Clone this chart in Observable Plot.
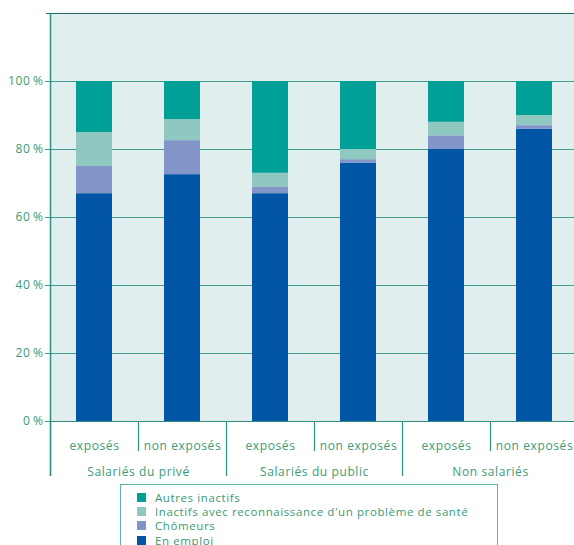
<!DOCTYPE html>
<html><head><meta charset="utf-8">
<script src="https://cdn.jsdelivr.net/npm/d3@7"></script>
<script src="https://cdn.jsdelivr.net/npm/@observablehq/plot@0.6"></script>
<style>
html,body{margin:0;padding:0;background:#fff;overflow:hidden;width:574px;height:545px;position:relative}
#chart svg{display:block;overflow:visible;max-width:none !important}
#legend{position:absolute;left:120px;top:484px;width:378px;height:80px;border:1.5px solid #5ab5a6;box-sizing:border-box;
  font-family:'Open Sans',sans-serif;font-size:11.5px;letter-spacing:0.6px;color:#3a9a78;padding-top:5px;line-height:13px}
#legend .row{display:flex;align-items:center;height:14.4px;padding-left:16px;white-space:nowrap}
#legend .sw{width:9px;height:9px;margin-right:9px;flex:none}
</style></head><body><div id="chart"></div><div id="legend"></div>
<script>
const groups = ["Salariés du privé", "Salariés du public", "Non salariés"];
const subs = ["exposés", "non exposés"];
const statuts = ["En emploi", "Chômeurs", "Inactifs avec reconnaissance d'un problème de santé", "Autres inactifs"];
const colors = ["#0055a5", "#8394c8", "#8fc8c0", "#00a096"];
// one value per bar: privé exposés, privé non exposés, public exposés, public non exposés, non salariés exposés, non salariés non exposés
const enEmploi = [67, 72.6, 67, 76, 80, 86];
const chomeurs = [8, 10, 2, 1, 4, 1];
const inactifsSante = [10, 6.2, 4, 3, 4, 3];
const autresInactifs = [15, 11.2, 27, 20, 12, 10];
const yTicks = [0, 20, 40, 60, 80, 100];
const yMax = 120;

const series = [enEmploi, chomeurs, inactifsSante, autresInactifs];
const cells = [];
groups.forEach((g, gi) => subs.forEach((s, si) => cells.push({group: g, sub: s, idx: gi * 2 + si})));
const rows = [];
cells.forEach(c => statuts.forEach((st, k) => rows.push({group: c.group, sub: c.sub, statut: st, value: series[k][c.idx]})));

const teal = "#3f9c8e";
const txt = "#3a9a78";

const chart = Plot.plot({
  width: 578, height: 478,
  marginLeft: 50, marginRight: 0, marginTop: 13, marginBottom: 57,
  style: {fontFamily: "'Open Sans', sans-serif", fontSize: "12px", color: txt, background: "transparent", letterSpacing: "0.6px", overflow: "visible"},
  fx: {domain: groups, padding: 0, axis: null},
  x: {domain: subs, paddingInner: 0.59, paddingOuter: 0.295, axis: null},
  y: {domain: [0, yMax], axis: null},
  color: {domain: statuts, range: colors},
  marks: [
    Plot.frame({fill: "#e0eeee", stroke: null, shapeRendering: "crispEdges"}),
    Plot.ruleY(yTicks, {stroke: teal, strokeWidth: 1.2, shapeRendering: "crispEdges"}),
    Plot.barY(rows, Plot.stackY({order: statuts}, {fx: "group", x: "sub", y: "value", fill: "statut"})),
    Plot.ruleY([0], {stroke: "#2f8e80", strokeWidth: 1.5, shapeRendering: "crispEdges"}),
    Plot.ruleY([yMax], {stroke: "#1f6e62", strokeWidth: 1.5, shapeRendering: "crispEdges"}),
    Plot.ruleY(cells.filter(c => c.idx === 0), {fx: "group", y: () => yMax, insetLeft: -4, insetRight: 160, stroke: "#1f6e62", strokeWidth: 1.5, shapeRendering: "crispEdges"}),
    Plot.axisY({ticks: yTicks, tickFormat: d => d + "\u2009%", tickSize: 5, tickPadding: 2, stroke: teal, fill: txt, label: null}),
    // left axis line
    Plot.ruleX(cells.filter(c => c.idx === 0), {fx: "group", x: "sub", dx: -44, insetBottom: -55, stroke: "#2f9080", strokeWidth: 1.5}),
    // group separators
    Plot.ruleX(cells.filter(c => c.sub === subs[0]), {fx: "group", x: "sub", y1: 0, y2: 0, dx: -44, insetBottom: -55, stroke: "#2f9080", strokeWidth: 1.2}),
    // inner separators
    Plot.ruleX(cells.filter(c => c.sub === subs[1]), {fx: "group", x: "sub", y1: 0, y2: 0, dx: -44, insetBottom: -30, stroke: "#2f9080", strokeWidth: 1.2}),
    Plot.text(cells, {fx: "group", x: "sub", text: "sub", frameAnchor: "bottom", lineAnchor: "middle", dy: 25, fill: txt}),
    Plot.text(cells.filter(c => c.sub === subs[0]), {fx: "group", text: "group", frameAnchor: "bottom", lineAnchor: "middle", dy: 51, fill: txt})
  ]
});
document.getElementById("chart").appendChild(chart);

const legend = document.getElementById("legend");
[...statuts].reverse().forEach(st => {
  const row = document.createElement("div");
  row.className = "row";
  const sw = document.createElement("span");
  sw.className = "sw";
  sw.style.background = colors[statuts.indexOf(st)];
  const lab = document.createElement("span");
  lab.textContent = st;
  row.appendChild(sw); row.appendChild(lab);
  legend.appendChild(row);
});
</script></body></html>
